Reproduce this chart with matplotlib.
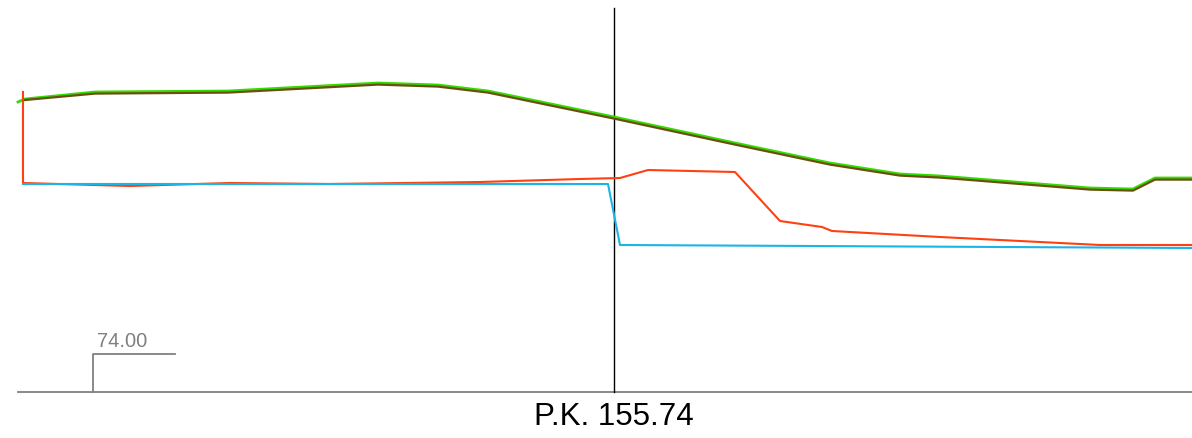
import numpy as np
import matplotlib
matplotlib.use("Agg")
import matplotlib.pyplot as plt

plt.rcParams['font.family'] = ['Liberation Sans', 'DejaVu Sans']

# cross section: offset from axis (m) vs elevation (m)
pk_label = "P.K. 155.74"
datum = 74.00
base_elev = 72.1
axis_top = 91.3

terrain_x = [-29.8, -29.45, -25.95, -19.3, -11.8, -8.8, -6.3, 0.0, 6.05, 10.8, 14.3, 16.3, 23.8, 25.95, 27.05, 28.9]
terrain_y = [86.6, 86.75, 87.1, 87.15, 87.55, 87.45, 87.15, 85.85, 84.55, 83.55, 83.0, 82.9, 82.3, 82.25, 82.8, 82.8]

ground_x = [-29.45, -25.95, -19.3, -11.8, -8.8, -6.3, 0.0, 6.05, 10.8, 14.3, 16.3, 23.8, 25.95, 27.05, 28.9]
ground_y = [86.7, 87.02, 87.07, 87.47, 87.37, 87.07, 85.77, 84.47, 83.47, 82.92, 82.82, 82.22, 82.17, 82.72, 82.72]

red_x = [-29.55, -29.55, -24.2, -19.2, -14.2, -6.7, -1.7, 0.3, 1.7, 6.05, 8.3, 10.4, 10.9, 16.3, 24.3, 28.9]
red_y = [87.1, 82.55, 82.4, 82.55, 82.5, 82.6, 82.75, 82.8, 83.2, 83.1, 80.65, 80.35, 80.15, 79.85, 79.45, 79.45]

blue_x = [-29.55, -0.3, 0.3, 28.9]
blue_y = [82.5, 82.5, 79.45, 79.3]

fig = plt.figure(figsize=(11.92, 4.39), dpi=100)
ax = fig.add_axes([0, 0, 1, 1])
ax.set_xlim(-30.7, 28.9)
ax.set_ylim(69.8, 91.75)
ax.axis('off')

# baseline and datum marker
ax.plot([-29.8, 28.9], [base_elev, base_elev], color='#808080', lw=1.3)
ax.plot([-26.05, -26.05, -21.95], [base_elev, datum, datum], color='#808080', lw=1.3)
ax.text(-25.85, datum + 0.2, f"{datum:.2f}", color='#808080', fontsize=14.5,
        ha='left', va='bottom')

# axis line
ax.plot([0, 0], [base_elev, axis_top], color='black', lw=1.0)

ax.plot(terrain_x, terrain_y, color='#33dd00', lw=2.0)
ax.plot(ground_x, ground_y, color='#6b4f10', lw=1.6)
ax.plot(red_x, red_y, color='#ff4010', lw=1.5)
ax.plot(blue_x, blue_y, color='#1ab4e6', lw=1.5)

ax.text(0, 70.9, pk_label, fontsize=22.5, ha='center', va='center', color='black')

fig.savefig('out.png', dpi=100)
